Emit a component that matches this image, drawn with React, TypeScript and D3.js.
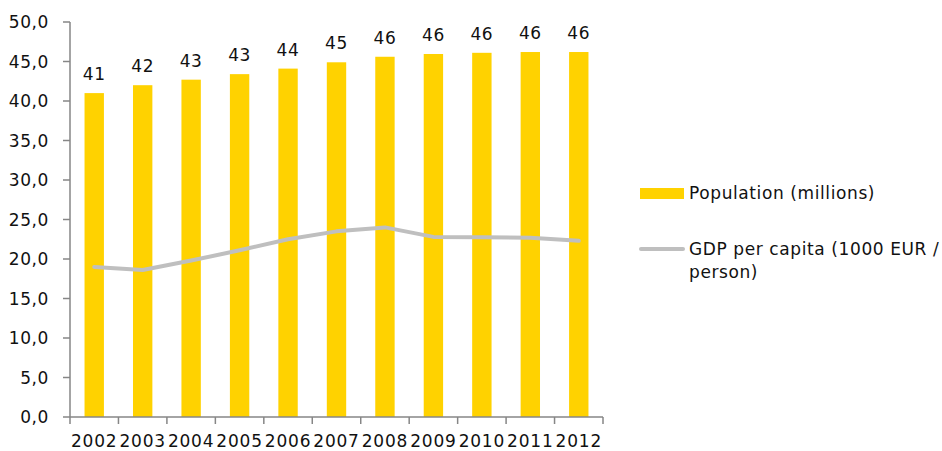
import React from "react";
import * as d3 from "d3";

const years = ["2002", "2003", "2004", "2005", "2006", "2007", "2008", "2009", "2010", "2011", "2012"];
const population = [41.0, 42.0, 42.7, 43.4, 44.1, 44.9, 45.6, 45.95, 46.1, 46.2, 46.2];
const gdpPerCapita = [19.0, 18.6, 19.8, 21.1, 22.5, 23.5, 24.0, 22.8, 22.75, 22.7, 22.3];
const yTicks = [0, 5, 10, 15, 20, 25, 30, 35, 40, 45, 50];
const legendLabels = ["Population (millions)", "GDP per capita (1000 EUR /", "person)"];

const W = 942;
const H = 451;
const FONT = "'DejaVu Sans', Verdana, sans-serif";
const AXIS = "#868686";
const BAR = "#FFD200";
const LINE = "#BFBFBF";

export default function App() {
  const x = d3.scaleBand<string>().domain(years).range([70, 603]).padding(0);
  const y = d3.scaleLinear().domain([0, 50]).range([417, 22]);
  const bw = x.bandwidth() * 0.4;
  const cx = (yr: string) => (x(yr) as number) + x.bandwidth() / 2;

  const linePath = d3
    .line<number>()
    .x((_, i) => cx(years[i]))
    .y((d) => y(d))(gdpPerCapita) as string;

  const fmt = (v: number) => v.toFixed(1).replace(".", ",");
  const textStyle = { fontFamily: FONT, fontSize: 17, letterSpacing: 0.6, fill: "#111" } as const;

  return (
    <svg
      width={W}
      height={H}
      style={{ position: "absolute", left: 0, top: 0, background: "#fff" }}
    >
      {/* bars */}
      {years.map((yr, i) => (
        <rect
          key={yr}
          x={cx(yr) - bw / 2}
          y={y(population[i])}
          width={bw}
          height={y(0) - y(population[i])}
          fill={BAR}
        />
      ))}
      {/* bar labels */}
      {years.map((yr, i) => (
        <text key={"l" + yr} x={cx(yr)} y={y(population[i]) - 13} textAnchor="middle" {...textStyle}>
          {Math.round(population[i])}
        </text>
      ))}
      {/* line */}
      <path d={linePath} fill="none" stroke={LINE} strokeWidth={4} strokeLinejoin="round" strokeLinecap="round" />

      {/* y axis */}
      <line x1={70} x2={70} y1={y(50)} y2={y(0)} stroke={AXIS} strokeWidth={1.5} />
      {yTicks.map((t) => (
        <g key={"yt" + t}>
          <line x1={63} x2={70} y1={y(t)} y2={y(t)} stroke={AXIS} strokeWidth={1.5} />
          <text x={49} y={y(t) + 6} textAnchor="end" {...textStyle}>
            {fmt(t)}
          </text>
        </g>
      ))}
      {/* x axis */}
      <line x1={70} x2={603} y1={y(0)} y2={y(0)} stroke={AXIS} strokeWidth={1.5} />
      {years.map((yr) => (
        <line
          key={"xt" + yr}
          x1={x(yr) as number}
          x2={x(yr) as number}
          y1={y(0)}
          y2={y(0) + 7}
          stroke={AXIS}
          strokeWidth={1.5}
        />
      ))}
      <line x1={603} x2={603} y1={y(0)} y2={y(0) + 7} stroke={AXIS} strokeWidth={1.5} />
      {years.map((yr) => (
        <text key={"xl" + yr} x={cx(yr)} y={447} textAnchor="middle" {...textStyle} letterSpacing={0.8}>
          {yr}
        </text>
      ))}

      {/* legend */}
      <rect x={640} y={188} width={44} height={11} fill={BAR} />
      <text x={689} y={199} {...textStyle}>
        {legendLabels[0]}
      </text>
      <line x1={641} x2={683} y1={249} y2={249} stroke={LINE} strokeWidth={4} strokeLinecap="round" />
      <text x={689} y={255} {...textStyle}>
        {legendLabels[1]}
      </text>
      <text x={689} y={278} {...textStyle}>
        {legendLabels[2]}
      </text>
    </svg>
  );
}
